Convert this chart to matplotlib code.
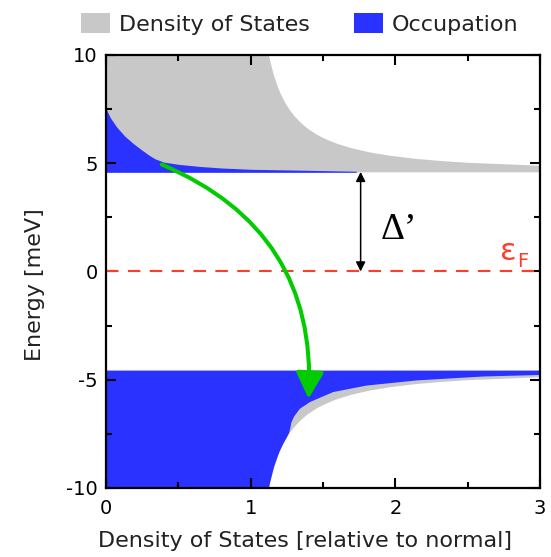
import matplotlib
matplotlib.use('Agg')
import matplotlib.pyplot as plt
from matplotlib.patches import Patch, FancyArrowPatch
import numpy as np

plt.rcParams['axes.unicode_minus'] = False

# quasiparticle density of states, |E| in meV (same for both bands)
band_energy = [4.58, 4.63, 4.66, 4.70, 4.75, 4.80, 4.87, 4.94, 5.02, 5.10, 5.20,
               5.35, 5.50, 5.70, 5.90, 6.00, 6.15, 6.30, 6.45, 6.60, 6.80, 7.00,
               7.20, 7.45, 7.70, 7.95, 8.30, 8.60, 9.00, 9.30, 9.65, 10.0]
band_dos = [15.0, 8.8, 6.25, 4.87, 4.01, 3.50, 3.05, 2.80, 2.50, 2.32, 2.144,
            1.958, 1.824, 1.693, 1.597, 1.558, 1.507, 1.463, 1.427, 1.394, 1.358, 1.327,
            1.300, 1.271, 1.247, 1.226, 1.201, 1.184, 1.163, 1.151, 1.138, 1.126]

# occupied states above the gap
occ_upper_energy = [4.58, 4.63, 4.68, 4.72, 4.78, 4.85, 4.95, 5.05, 5.20, 5.36, 5.60,
                    5.90, 6.25, 6.67, 7.10, 7.52]
occ_upper = [1.73, 1.73, 1.34, 1.00, 0.80, 0.65, 0.50, 0.40, 0.34, 0.30, 0.25,
             0.19, 0.13, 0.074, 0.03, 0.0]

# occupied states below the gap (|E|)
occ_lower_energy = [4.58, 4.78, 4.85, 5.03, 5.27, 5.57, 6.03, 6.34, 6.70, 7.00,
                    7.20, 7.45, 7.70, 7.95, 8.30, 8.60, 9.00, 9.30, 9.65, 10.0]
occ_lower = [15.0, 3.0, 2.61, 2.15, 1.80, 1.57, 1.41, 1.34, 1.30, 1.28,
             1.275, 1.266, 1.247, 1.226, 1.201, 1.184, 1.163, 1.151, 1.138, 1.126]

gap = 4.6
arrow_x = 1.76
transfer_start = (0.385, 4.94)
transfer_end = (1.40, -5.88)

gray = '#c8c8c8'
blue = '#2a32ff'
green = '#00cc00'
red = '#ff3c28'

fig = plt.figure(figsize=(5.51, 5.57), dpi=100)
ax = fig.add_axes([0.1924, 0.1239, 0.7877, 0.7774])

E = np.array(band_energy)
ax.fill_betweenx(E, 0, band_dos, color=gray, lw=0)
ax.fill_betweenx(-E, 0, band_dos, color=gray, lw=0)
ax.fill_betweenx(occ_upper_energy, 0, occ_upper, color=blue, lw=0)
ax.fill_betweenx(-np.array(occ_lower_energy), 0, occ_lower, color=blue, lw=0)

# Fermi level
ax.plot([0, 3], [0, 0], color=red, lw=1.5, dashes=(6, 4.5))
ax.text(2.72, 0.55, 'ε', color=red, fontsize=22, ha='left', va='baseline')
ax.text(2.84, 0.22, 'F', color=red, fontsize=14, ha='left', va='baseline')

# gap arrow
ax.annotate('', xy=(arrow_x, gap), xytext=(arrow_x, 0),
            arrowprops=dict(arrowstyle='<|-|>', color='k', lw=1.1,
                            mutation_scale=14, shrinkA=0, shrinkB=0))
ax.text(1.9, 1.52, 'Δ’', fontsize=27, family='Liberation Serif',
        ha='left', va='baseline')

# transfer of quasiparticles across the gap
arr = FancyArrowPatch(transfer_start, transfer_end,
                      connectionstyle='arc3,rad=-0.35',
                      arrowstyle='-|>,head_length=0.8,head_width=0.42',
                      mutation_scale=20, lw=2.9, color=green,
                      shrinkA=0, shrinkB=0, zorder=4)
ax.add_patch(arr)

ax.set_xlim(0, 3)
ax.set_ylim(-10, 10)
ax.set_xticks([0, 1, 2, 3])
ax.set_xticks([0.5, 1.5, 2.5], minor=True)
ax.set_yticks([-10, -5, 0, 5, 10])
ax.set_yticks([-7.5, -2.5, 2.5, 7.5], minor=True)
ax.tick_params(which='both', direction='in', top=True, right=True, width=1.5,
               labelsize=14, colors='k')
ax.tick_params(which='major', length=7)
ax.tick_params(which='minor', length=4)
ax.tick_params(axis='y', pad=6)
ax.tick_params(axis='x', pad=8)
for s in ax.spines.values():
    s.set_linewidth(1.6)

ax.set_xlabel('Density of States [relative to normal]', fontsize=16, color='#222222')
ax.set_ylabel('Energy [meV]', fontsize=16, color='#222222')
ax.xaxis.set_label_coords(0.459, -0.099)
ax.yaxis.set_label_coords(-0.14, 0.469)

handles = [Patch(facecolor=gray, edgecolor='none'),
           Patch(facecolor=blue, edgecolor='none')]
fig.legend(handles, ['Density of States', 'Occupation'], ncol=2, loc='center',
           bbox_to_anchor=(0.544, 0.957), frameon=False, fontsize=16,
           handlelength=1.3, handleheight=1.0, handletextpad=0.4,
           columnspacing=2.0, borderpad=0, labelcolor='#222222')

fig.savefig('out.png', dpi=100)
